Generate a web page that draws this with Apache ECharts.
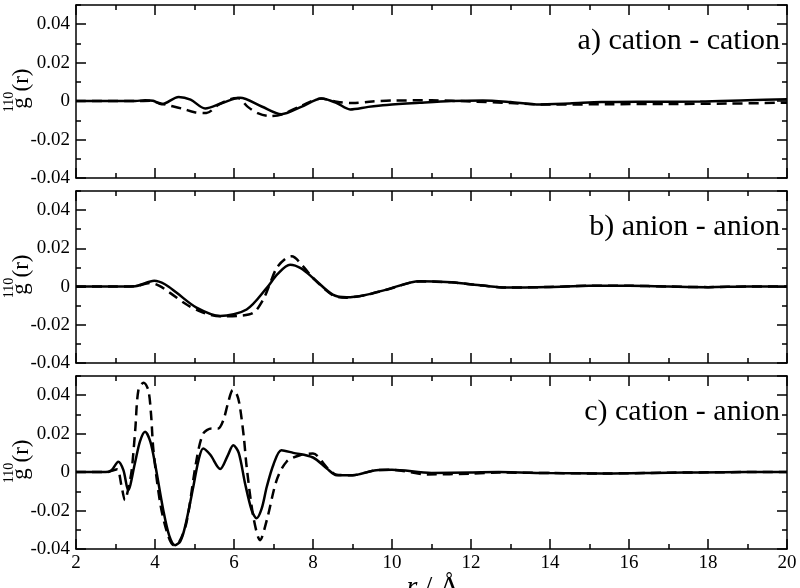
<!DOCTYPE html>
<html>
<head>
<meta charset="utf-8">
<script src="https://cdn.jsdelivr.net/npm/echarts@6/dist/echarts.min.js"></script>
<style>
  html, body { margin: 0; padding: 0; background: #fff; }
  #chart { width: 800px; height: 588px; }
</style>
</head>
<body>
<div id="chart"></div>
<script>
// x ticks
var xTicks = [2, 4, 6, 8, 10, 12, 14, 16, 18, 20];
var yTicks = [-0.04, -0.02, 0, 0.02, 0.04];
var panelTitles = ['a) cation - cation', 'b) anion - anion', 'c) cation - anion'];

// a) cation - cation
var rASolid = [2, 3.5, 3.75, 3.95, 4.17, 4.6, 4.9, 5.27, 5.7, 6.15, 6.7, 7.2, 7.7, 8.22, 8.6, 8.94, 9.4, 9.87, 10.7, 11.5, 12.3, 13, 13.66, 14.5, 15.3, 16.5, 17.8, 19, 20];
var gASolid = [0, 0, 0.0005, 0.0002, -0.0016, 0.0022, 0.0008, -0.0038, -0.001, 0.0017, -0.0028, -0.0068, -0.003, 0.0014, -0.001, -0.0043, -0.003, -0.002, -0.0009, 0, 0.0003, -0.0005, -0.0017, -0.0012, -0.0005, -0.0003, -0.0002, 0.0005, 0.001];
var rADash = [2, 3.5, 3.9, 4.1, 4.4, 4.7, 5.0, 5.3, 5.6, 5.9, 6.1, 6.35, 6.6, 6.9, 7.2, 7.7, 8.2, 8.6, 9.0, 9.5, 10, 11, 12, 13, 14, 15.5, 17, 18.5, 20];
var gADash = [0, 0, 0.0002, -0.001, -0.0025, -0.004, -0.0058, -0.0062, -0.002, 0.001, 0.0016, -0.003, -0.0062, -0.0078, -0.007, -0.0025, 0.0013, -0.0003, -0.001, -0.0002, 0.0003, 0.0004, -0.0002, -0.001, -0.0018, -0.0016, -0.0015, -0.0013, -0.0008];

// b) anion - anion
var rBSolid = [2, 3.0, 3.5, 3.98, 4.25, 4.55, 5.05, 5.65, 6.32, 6.83, 7.1, 7.42, 7.7, 8.0, 8.5, 8.85, 9.3, 9.86, 10.7, 11.5, 12.3, 12.9, 14, 15, 16, 17, 18, 19, 20];
var gBSolid = [0, 0, 0.0002, 0.003, 0.0012, -0.0033, -0.011, -0.0154, -0.012, -0.0007, 0.0065, 0.0114, 0.0095, 0.0045, -0.0042, -0.0056, -0.0045, -0.0016, 0.0028, 0.0022, 0.0005, -0.0005, -0.0002, 0.0004, 0.0004, 0, -0.0003, 0, 0];
var rBDash = [2, 3.0, 3.5, 3.87, 4.1, 4.38, 4.8, 5.2, 5.65, 6.07, 6.49, 6.74, 6.9, 7.08, 7.3, 7.46, 7.75, 8.0, 8.5, 8.85, 9.3, 9.86, 10.7, 11.5, 12.3, 12.9, 14, 15, 16, 17, 18, 19, 20];
var gBDash = [0, 0, 0.0002, 0.0019, 0.0005, -0.0033, -0.0094, -0.0135, -0.0156, -0.0154, -0.0137, -0.0068, 0.001, 0.0097, 0.0145, 0.0158, 0.0106, 0.0045, -0.0045, -0.0058, -0.0046, -0.0017, 0.0027, 0.0022, 0.0005, -0.0005, -0.0002, 0.0004, 0.0004, 0, -0.0003, 0, 0];

// c) cation - anion
var rCSolid = [2, 2.75, 2.9, 3.07, 3.2, 3.32, 3.49, 3.62, 3.75, 3.88, 4.0, 4.21, 4.36, 4.51, 4.64, 4.76, 4.97, 5.1, 5.22, 5.4, 5.65, 5.85, 5.98, 6.12, 6.28, 6.45, 6.57, 6.7, 6.83, 7.0, 7.2, 7.5, 8.0, 8.35, 8.6, 9.0, 9.6, 10.0, 11.0, 12.0, 12.7, 14, 15.3, 17, 17.8, 19, 20];
var gCSolid = [0, 0, 0.001, 0.0054, 0.001, -0.0094, 0.0045, 0.016, 0.021, 0.016, 0.0045, -0.0198, -0.033, -0.038, -0.036, -0.0285, -0.0076, 0.006, 0.0123, 0.009, 0.0016, 0.009, 0.014, 0.01, -0.0059, -0.02, -0.024, -0.019, -0.0076, 0.004, 0.0114, 0.010, 0.0076, 0.0019, -0.0016, -0.0016, 0.001, 0.0012, -0.0004, -0.0002, 0, -0.0005, -0.0007, -0.0003, -0.0002, 0, 0];
var rCDash = [2, 2.8, 2.95, 3.05, 3.15, 3.24, 3.33, 3.41, 3.5, 3.58, 3.71, 3.83, 3.9, 3.96, 4.13, 4.3, 4.47, 4.62, 4.8, 5.05, 5.22, 5.43, 5.6, 5.73, 5.85, 5.97, 6.08, 6.15, 6.25, 6.32, 6.49, 6.66, 6.83, 7.08, 7.33, 7.67, 8.0, 8.35, 8.6, 9.0, 9.6, 10.0, 10.9, 12.0, 12.7, 14, 15.3, 17, 19, 20];
var gCDash = [0, 0, 0.001, 0.0015, -0.007, -0.0146, -0.008, 0.001, 0.022, 0.0427, 0.0465, 0.0427, 0.03, 0.0114, -0.016, -0.031, -0.038, -0.036, -0.026, 0.0062, 0.020, 0.0227, 0.0227, 0.027, 0.036, 0.0427, 0.040, 0.034, 0.018, 0.0028, -0.0233, -0.0354, -0.025, -0.0042, 0.0054, 0.0088, 0.0097, 0.0025, -0.0014, -0.0016, 0.001, 0.0012, -0.0012, -0.0008, -0.0002, -0.0005, -0.0007, -0.0003, 0, 0];

function zip(r, g) {
    var out = [];
    for (var i = 0; i < r.length; i++) out.push([r[i], g[i]]);
    return out;
}

var curves = [
    [zip(rASolid, gASolid), zip(rADash, gADash)],
    [zip(rBSolid, gBSolid), zip(rBDash, gBDash)],
    [zip(rCSolid, gCSolid), zip(rCDash, gCDash)]
];

var FONT = '"Liberation Serif", "DejaVu Serif", serif';
var panelTop = [5, 191, 376];
var panelH = [173, 172, 173];
var zeroY = [101, 287, 472];

var grids = [], xAxes = [], yAxes = [], series = [], graphics = [];
var lineCol = '#000';

for (var p = 0; p < 3; p++) {
    grids.push({left: 76, right: 13, top: panelTop[p], height: panelH[p]});
    var xBase = {
        type: 'value', gridIndex: p, min: xTicks[0], max: xTicks[xTicks.length - 1], interval: 2,
        axisLine: {show: true, onZero: false, lineStyle: {color: lineCol, width: 1.5}},
        axisTick: {show: true, inside: true, length: 10, lineStyle: {color: lineCol, width: 1.5}},
        minorTick: {show: true, splitNumber: 2, length: 5, lineStyle: {color: lineCol, width: 1.5}},
        splitLine: {show: false}
    };
    xAxes.push(Object.assign({}, xBase, {
        position: 'bottom',
        axisLabel: {show: p === 2, color: '#000', fontFamily: FONT, fontSize: 19, margin: 5}
    }));
    xAxes.push(Object.assign({}, xBase, {position: 'top', axisLabel: {show: false}}));

    var yMajor = {
        type: 'value', gridIndex: p, min: yTicks[0], max: 0.05, interval: 0.02,
        axisLine: {show: true, onZero: false, lineStyle: {color: lineCol, width: 1.5}},
        axisTick: {show: true, inside: true, length: 10, lineStyle: {color: lineCol, width: 1.5}},
        splitLine: {show: false}
    };
    var yMinor = {
        type: 'value', gridIndex: p, min: yTicks[0], max: 0.05, interval: 0.01,
        axisLine: {show: false, onZero: false},
        axisTick: {show: true, inside: true, length: 5, lineStyle: {color: lineCol, width: 1.5}},
        axisLabel: {show: false},
        splitLine: {show: false}
    };
    yAxes.push(Object.assign({}, yMajor, {
        position: 'left',
        axisLabel: {
            show: true, showMaxLabel: false, color: '#000', fontFamily: FONT, fontSize: 19, margin: 6,
            formatter: function (v) { return Math.abs(v) < 1e-9 ? '0' : v.toFixed(2); }
        }
    }));
    yAxes.push(Object.assign({}, yMinor, {position: 'left'}));
    yAxes.push(Object.assign({}, yMajor, {position: 'right', axisLabel: {show: false}}));
    yAxes.push(Object.assign({}, yMinor, {position: 'right'}));

    series.push({
        type: 'line', xAxisIndex: p * 2, yAxisIndex: p * 4, data: curves[p][0],
        showSymbol: false, smooth: 0.3, lineStyle: {color: '#000', width: 2.5}, z: 3
    });
    series.push({
        type: 'line', xAxisIndex: p * 2, yAxisIndex: p * 4, data: curves[p][1],
        showSymbol: false, smooth: 0.3, lineStyle: {color: '#000', width: 2.5, type: [10, 6]}, z: 2
    });

    graphics.push({
        type: 'text', x: 780, y: panelTop[p] + 36,
        style: {text: panelTitles[p], font: '30px ' + FONT, fill: '#000', textAlign: 'right', textVerticalAlign: 'middle'}
    });
    // y axis title: g with superscript 110 over it, then (r)
    graphics.push({
        type: 'text', x: 21, y: zeroY[p] + 2, rotation: Math.PI / 2,
        style: {text: 'g', font: '23px ' + FONT, fill: '#000', textAlign: 'center', textVerticalAlign: 'middle'}
    });
    graphics.push({
        type: 'text', x: 9, y: zeroY[p] + 1, rotation: Math.PI / 2,
        style: {text: '110', font: '14px ' + FONT, fill: '#000', textAlign: 'center', textVerticalAlign: 'middle'}
    });
    graphics.push({
        type: 'text', x: 22, y: zeroY[p] - 21, rotation: Math.PI / 2,
        style: {text: '(r)', font: '23px ' + FONT, fill: '#000', textAlign: 'center', textVerticalAlign: 'middle'}
    });
}

// x axis title, mostly cut off at the bottom edge
graphics.push({
    type: 'text', x: 433, y: 574,
    style: {
        text: '{i|r} / Å', fill: '#000', textAlign: 'center', textVerticalAlign: 'top',
        font: '28px ' + FONT,
        rich: {i: {fontStyle: 'italic', fontFamily: FONT, fontSize: 28}}
    }
});

var chart = echarts.init(document.getElementById('chart'));
chart.setOption({
    animation: false,
    backgroundColor: '#fff',
    grid: grids,
    xAxis: xAxes,
    yAxis: yAxes,
    series: series,
    graphic: graphics
});
</script>
</body>
</html>
